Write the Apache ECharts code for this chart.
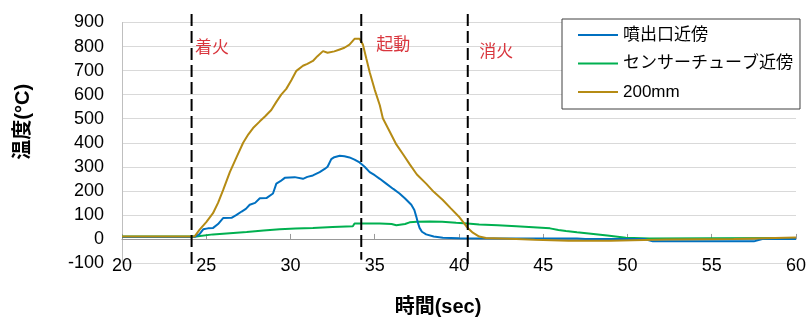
<!DOCTYPE html>
<html><head><meta charset="utf-8">
<script src="https://cdn.jsdelivr.net/npm/echarts@6/dist/echarts.min.js"></script>
<style>html,body{margin:0;padding:0;background:#fff}#c{width:809px;height:322px}</style>
</head><body><div id="c"></div>
<script>
const seriesNames = ['噴出口近傍', 'センサーチューブ近傍', '200mm'];

const nozzle = [[20,8],[24.3,8],[24.6,20],[24.82,40],[25.1,44],[25.41,46],[25.7,62],[26.0,87],[26.5,88],[26.8,100],[27.1,114],[27.35,125],[27.58,142],[27.9,150],[28.18,169],[28.57,170],[28.96,189],[29.16,230],[29.4,240],[29.66,254],[30.25,257],[30.74,250],[31.0,258],[31.33,264],[31.73,278],[32.03,291],[32.2,300],[32.42,332],[32.6,340],[32.92,346],[33.2,344],[33.5,339],[33.8,330],[34.1,318],[34.4,300],[34.7,278],[35.0,265],[35.3,250],[35.68,230],[36.1,208],[36.47,189],[36.8,168],[37.17,142],[37.35,120],[37.46,94],[37.55,70],[37.66,46],[37.8,30],[38.05,19],[38.5,10],[39.04,5],[40,3],[44.2,2],[47,2],[47.5,0],[51,0],[51.5,-10],[57.5,-10],[58,0],[60,0]];

const sensorTube = [[20,10],[24.4,10],[25.4,19],[26.4,24],[27.4,29],[28.4,35],[29.36,40],[30.3,43],[31.33,46],[32.5,50],[33.7,53],[33.8,64],[35.3,64],[36.0,62],[36.28,57],[36.8,62],[37.07,69],[37.5,72],[38.25,73],[39.0,72],[39.83,67],[40.5,64],[41.2,60],[42.3,57],[43.4,53],[44.4,49],[45.4,44],[45.9,37],[46.35,33],[47.0,28],[47.7,23],[48.8,14],[49.9,5],[51.3,2],[55,3],[60,4]];

const mm200 = [[20,10],[24.3,10],[24.62,40],[25.0,70],[25.4,107],[25.7,150],[26.0,203],[26.4,278],[26.8,340],[27.19,400],[27.5,435],[27.78,461],[28.18,489],[28.5,510],[28.86,536],[29.16,570],[29.45,600],[29.75,624],[30.05,660],[30.35,699],[30.74,720],[31.0,728],[31.33,740],[31.6,760],[31.93,781],[32.2,774],[32.6,780],[32.92,788],[33.2,795],[33.5,808],[33.8,832],[34.1,832],[34.3,808],[34.5,750],[34.7,693],[35.0,620],[35.3,556],[35.48,502],[35.9,445],[36.28,393],[36.7,350],[37.07,311],[37.5,268],[38.05,230],[38.5,196],[39.04,162],[39.5,128],[40.03,90],[40.25,70],[40.43,53],[40.6,40],[40.82,26],[41.2,10],[41.6,4],[43.4,0],[44.5,-3],[46.5,-8],[49,-7],[50.3,-5],[52.3,-2],[56.3,0],[56.4,4],[60,6]];

const eventTimes = [24.13, 34.2, 40.52];
const eventNames = ['着火', '起動', '消火'];
const eventLineBottoms = [-106, -86, -123];
const eventLineTop = 935;
const eventLabelX = [24.33, 35.09, 41.2];
const eventLabelY = [800, 814, 785];

const xMin = 20, xMax = 60, xStep = 5;
const yMin = -100, yMax = 900, yStep = 100;

const FONT = "'Liberation Sans', 'Noto Sans CJK JP', sans-serif";
const colors = ['#0070C0', '#00B050', '#B58B14'];

const chart = echarts.init(document.getElementById('c'), null, {renderer: 'canvas'});

const eventData = eventTimes.map((t, i) => [t, eventLineBottoms[i], eventLabelX[i], eventLabelY[i], eventNames[i]]);

chart.setOption({
  animation: false,
  backgroundColor: '#fff',
  textStyle: {fontFamily: FONT},
  grid: {left: 122, right: 12, top: 22.5, bottom: 55},
  legend: {
    data: seriesNames,
    orient: 'vertical',
    left: 562, top: 19,
    padding: [6, 7, 7, 16],
    itemGap: 8.5,
    icon: 'rect',
    itemWidth: 40, itemHeight: 2,
    borderColor: '#404040', borderWidth: 1,
    backgroundColor: '#fff',
    textStyle: {fontSize: 17, color: '#000', lineHeight: 20, fontFamily: FONT}
  },
  xAxis: [{
    type: 'value', min: xMin, max: xMax, interval: xStep,
    position: 'bottom',
    axisLine: {show: false, onZero: false},
    axisTick: {show: false},
    axisLabel: {fontSize: 18, margin: -6, color: '#000', fontFamily: FONT},
    splitLine: {show: false},
    name: '時間(sec)', nameLocation: 'middle', nameGap: 34,
    nameTextStyle: {fontSize: 20, fontWeight: 'bold', color: '#000', padding: [0, 42, 0, 0], fontFamily: FONT}
  }, {
    type: 'value', min: xMin, max: xMax, interval: xStep,
    position: 'bottom',
    axisLine: {show: true, onZero: true, onZeroAxisIndex: 0, lineStyle: {color: '#999999', width: 1}},
    axisTick: {show: true, inside: true, length: 5, lineStyle: {color: '#999999'}},
    axisLabel: {show: false},
    splitLine: {show: false}
  }],
  yAxis: {
    type: 'value', min: yMin, max: yMax, interval: yStep,
    axisLine: {show: true, onZero: false, lineStyle: {color: '#bfbfbf'}},
    axisTick: {show: false},
    axisLabel: {fontSize: 18, margin: 18, color: '#000', fontFamily: FONT},
    splitLine: {lineStyle: {color: '#d9d9d9', width: 1}},
    name: '温度(°C)', nameLocation: 'middle', nameGap: 89,
    nameTextStyle: {fontSize: 20, fontWeight: 'bold', color: '#000', padding: [0, 0, 0, 42], fontFamily: FONT}
  },
  series: [
    {name: seriesNames[0], type: 'line', data: nozzle, symbol: 'none', lineStyle: {width: 2, color: colors[0]}, itemStyle: {color: colors[0]}, z: 3},
    {name: seriesNames[1], type: 'line', data: sensorTube, symbol: 'none', lineStyle: {width: 2, color: colors[1]}, itemStyle: {color: colors[1]}, z: 2},
    {name: seriesNames[2], type: 'line', data: mm200, symbol: 'none', lineStyle: {width: 2, color: colors[2]}, itemStyle: {color: colors[2]}, z: 4},
    {
      type: 'custom', coordinateSystem: 'cartesian2d', z: 10, clip: false,
      data: eventData,
      renderItem: function (params, api) {
        const x = api.value(0);
        const top = api.coord([x, eventLineTop]);
        const bot = api.coord([x, api.value(1)]);
        const lp = api.coord([api.value(2), api.value(3)]);
        return {
          type: 'group',
          children: [{
            type: 'line',
            shape: {x1: top[0], y1: top[1], x2: bot[0], y2: bot[1]},
            style: {stroke: '#000', lineWidth: 2, lineDash: [12, 5]}
          }, {
            type: 'text',
            x: lp[0], y: lp[1],
            style: {text: eventNames[params.dataIndex], fill: '#D9363E', font: "17px 'Noto Sans CJK JP', sans-serif", verticalAlign: 'middle', align: 'left'}
          }]
        };
      }
    }
  ]
});
</script></body></html>
